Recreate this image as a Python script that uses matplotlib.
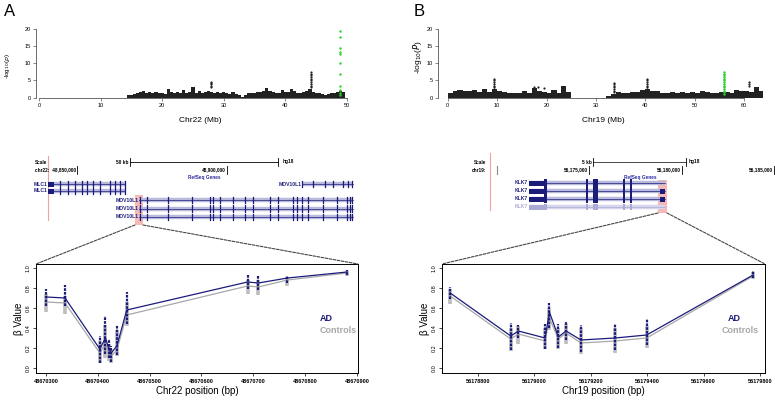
import numpy as np
import matplotlib
matplotlib.use("Agg")
import matplotlib.pyplot as plt
from matplotlib.patches import Rectangle, ConnectionPatch

plt.rcParams['font.family'] = ['Liberation Sans', 'DejaVu Sans']

W, H = 775, 400
NAVY = '#1b1b7a'
GREY = '#a8a8a8'
PALE = '#b9b9dc'

# ---- Manhattan data (-log10 p) ----
chr22_start, chr22_step = 14.5, 0.5
chr22_band = [0.6, 0.8, 1.0, 1.2, 1.5, 2.0, 1.4, 1.6, 1.3, 1.5, 1.2, 1.4, 1.1, 2.5, 1.5,
              1.2, 1.6, 1.3, 2.2, 1.4, 1.5, 3.2, 1.4, 1.8, 1.3, 1.5, 2.0, 1.7, 1.3, 1.6,
              1.2, 1.5, 1.3, 1.1, 1.7, 1.0, 0.7, 0.2, 0.8, 1.2, 1.4, 1.3, 1.6, 1.5, 2.0,
              2.8, 1.8, 1.5, 1.4, 1.3, 2.3, 1.5, 1.7, 2.5, 1.9, 1.4, 1.3, 1.5, 1.8, 2.5,
              1.6, 1.2, 1.4, 1.0, 0.8, 1.1, 1.3, 1.2, 1.5, 1.8, 1.6]
chr22_hit_pos = [28.0] * 5 + [44.2] * 10
chr22_hit_val = [3.0, 3.4, 3.8, 4.2, 4.5,
                 3.0, 3.5, 4.0, 4.5, 5.0, 5.5, 6.0, 6.5, 7.0, 7.3]
chr22_green_pos = 48.8
chr22_green_val = [0.8, 1.2, 2.1, 3.4, 6.8, 10.1, 12.6, 13.4, 14.5, 17.8, 19.5]

chr19_start, chr19_step = 0.5, 1.0
chr19_band = [1.4, 1.8, 2.2, 1.9, 2.0, 2.3, 1.6, 2.5, 1.5, 2.6, 2.0, 1.5, 1.3, 1.4, 1.2,
              2.0, 1.4, 2.8, 2.0, 1.6, 1.4, 2.2, 1.3, 3.4, 1.5, 0, 0, 0, 0, 0, 0, 0,
              0.5, 1.0, 1.5, 1.3, 1.4, 1.5, 1.6, 2.2, 2.6, 2.0, 2.0, 1.4, 1.3, 1.5, 1.2,
              1.6, 1.3, 1.5, 1.4, 1.8, 1.5, 1.3, 1.4, 1.5, 1.6, 1.4, 2.2, 1.8, 2.0, 1.6,
              3.2, 2.0]
chr19_hit_pos = [9.3] * 8 + [17.4, 17.4, 18.3, 19.4] + [33.7] * 7 + [40.3] * 7 + [60.9] * 3
chr19_hit_val = [2.0, 2.5, 3.0, 3.5, 4.0, 4.5, 5.0, 5.4,
                 2.6, 3.0, 3.2, 2.9,
                 1.5, 2.0, 2.5, 3.0, 3.5, 4.0, 4.3,
                 2.5, 3.0, 3.5, 4.0, 4.5, 5.0, 5.3,
                 3.5, 4.0, 4.5]
chr19_green_pos = 55.9
chr19_green_val = [1.0, 1.5, 2.0, 2.5, 3.0, 3.5, 4.0, 4.5, 5.0, 5.5, 6.0, 6.5, 7.0, 7.5]

# ---- beta values per CpG ----
chr22_cpg = [48670301, 48670337, 48670404, 48670415, 48670421, 48670426,
             48670437, 48670456, 48670689, 48670710, 48670766, 48670881]
chr22_ad = [0.71, 0.70, 0.19, 0.30, 0.20, 0.15, 0.22, 0.58, 0.86, 0.85, 0.90, 0.96]
chr22_ctrl = [0.66, 0.65, 0.15, 0.25, 0.16, 0.12, 0.18, 0.53, 0.82, 0.81, 0.88, 0.95]
chr22_ad_lo = [0.62, 0.62, 0.05, 0.14, 0.10, 0.06, 0.13, 0.44, 0.79, 0.78, 0.85, 0.93]
chr22_ad_hi = [0.79, 0.83, 0.32, 0.52, 0.29, 0.22, 0.43, 0.76, 0.93, 0.93, 0.92, 0.98]
chr22_ctrl_lo = [0.56, 0.54, 0.05, 0.10, 0.07, 0.05, 0.12, 0.42, 0.74, 0.73, 0.82, 0.92]
chr22_ctrl_hi = [0.74, 0.72, 0.27, 0.43, 0.24, 0.18, 0.38, 0.66, 0.88, 0.88, 0.91, 0.97]

chr19_cpg = [56178701, 56178916, 56178943, 56179038, 56179053, 56179085,
             56179112, 56179165, 56179286, 56179398, 56179776]
chr19_ad = [0.75, 0.32, 0.37, 0.30, 0.56, 0.31, 0.37, 0.28, 0.30, 0.33, 0.93]
chr19_ctrl = [0.72, 0.29, 0.34, 0.27, 0.50, 0.29, 0.35, 0.25, 0.27, 0.30, 0.92]
chr19_ad_lo = [0.69, 0.18, 0.30, 0.19, 0.40, 0.20, 0.28, 0.16, 0.18, 0.23, 0.90]
chr19_ad_hi = [0.81, 0.45, 0.43, 0.44, 0.65, 0.44, 0.47, 0.43, 0.44, 0.49, 0.97]
chr19_ctrl_lo = [0.64, 0.17, 0.24, 0.19, 0.38, 0.19, 0.24, 0.14, 0.15, 0.20, 0.89]
chr19_ctrl_hi = [0.79, 0.40, 0.42, 0.40, 0.60, 0.40, 0.44, 0.40, 0.40, 0.42, 0.96]

# ---- gene models (kb, hg18) ----
mlc1_span = (48840.3, 48866.0)
mlc1_box = (48840.3, 48842.3)
mlc1_exons = [48844.3, 48847.0, 48849.3, 48851.7, 48853.3, 48855.3, 48857.7,
              48861.0, 48862.7, 48864.3, 48866.0]
mov_span = (48870.7, 48941.9)
mov_exons = [48871.0, 48873.3, 48880.3, 48888.3, 48894.3, 48895.3, 48897.7, 48902.0,
             48906.0, 48908.7, 48914.3, 48917.0, 48922.0, 48923.3, 48925.0, 48927.0,
             48932.0, 48936.7, 48940.0, 48941.0, 48941.7]
mov_short_span = (48925.0, 48941.9)
mov_short_exons = [48925.0, 48928.7, 48932.7, 48935.3, 48938.7, 48940.3, 48941.7]
chr22_hilite = (48869.3, 48872.0)

klk7_span = (56171.77, 56179.09)
klk7_box = (56171.77, 56172.58)
klk7_exons = [56172.58, 56174.84, 56175.20, 56176.83, 56177.20]
klk7_exon_w = [0.16, 0.08, 0.30, 0.11, 0.11]
klk7_end = (56178.82, 56179.09)
chr19_hilite = (56178.71, 56179.19)


fig = plt.figure(figsize=(W / 100, H / 100), dpi=100)


def px_axes(l, t, r, b):
    return fig.add_axes([l / W, 1 - b / H, (r - l) / W, (b - t) / H])


def manhattan(ax, start, step, band, hit_pos, hit_val, gpos, gval, xmax_tick):
    pos = [start + step * i for i in range(len(band))]
    ax.bar(pos, band, width=step * 1.05, color='#222222', linewidth=0)
    ax.scatter(hit_pos, hit_val, s=2.5, color='#222222', linewidths=0)
    ax.scatter([gpos] * len(gval), gval, s=3, color='#2bd12b', linewidths=0, zorder=3)
    ax.set_ylim(0, 20)
    for s in ['top', 'right']:
        ax.spines[s].set_visible(False)
    ax.spines['left'].set_bounds(0, 20)
    ax.spines['bottom'].set_bounds(0, xmax_tick)
    for s in ['left', 'bottom']:
        ax.spines[s].set_linewidth(0.6)
        ax.spines[s].set_color('#555555')
    ax.set_yticks([0, 5, 10, 15, 20])
    ax.set_xticks(range(0, xmax_tick + 1, 10))
    ax.tick_params(labelsize=4, length=2.5, width=0.5, pad=1.5, color='#555555')


# ---- panel A / B top ----
axA = px_axes(36, 29, 350, 97.5)
axA.set_xlim(-0.49, 50.5)
manhattan(axA, chr22_start, chr22_step, chr22_band, chr22_hit_pos, chr22_hit_val,
          chr22_green_pos, chr22_green_val, 50)

axB = px_axes(438, 29, 763, 97.5)
axB.set_xlim(-1.96, 63.8)
manhattan(axB, chr19_start, chr19_step, chr19_band, chr19_hit_pos, chr19_hit_val,
          chr19_green_pos, chr19_green_val, 60)

# ---- overlay for labels ----
ov = fig.add_axes([0, 0, 1, 1], zorder=-1)
ov.set_xlim(0, W)
ov.set_ylim(H, 0)
ov.axis('off')
ov.text(10, 11, 'A', fontsize=12, ha='center', va='center')
ov.text(419, 11, 'B', fontsize=12, ha='center', va='center')
ov.text(200, 120, 'Chr22 (Mb)', fontsize=6, ha='center', va='center')
ov.text(603, 120, 'Chr19 (Mb)', fontsize=6, ha='center', va='center')
ov.text(7, 66, r'-log$_{10}$($p$)', fontsize=4.5, rotation=90, ha='center', va='center')
ov.text(418, 57, r'-log$_{10}$($P$)', fontsize=6, rotation=90, ha='center', va='center')


# ---- gene tracks ----
def gene_row(ax, y, span, exons, color, pale, label=None, box=None, end=None,
             tall=3.2, widths=None):
    ax.plot(span, [y, y], color=pale, lw=3.2, solid_capstyle='butt')
    ax.plot(span, [y, y], color=color, lw=0.5)
    if widths is None:
        for e in exons:
            ax.plot([e, e], [y - tall, y + tall], color=color, lw=0.9, zorder=3)
    else:
        for e, w in zip(exons, widths):
            ax.add_patch(Rectangle((e, y - tall), w, 2 * tall, color=color, lw=0, zorder=3))
    if box is not None:
        ax.add_patch(Rectangle((box[0], y - 2.5), box[1] - box[0], 5.0, color=color,
                               lw=0, zorder=3))
    if end is not None:
        ax.add_patch(Rectangle((end[0], y - 2.5), end[1] - end[0], 5.0, color=color,
                               lw=0, zorder=3))
    if label:
        ax.text(span[0] - 0.002 * (ax.get_xlim()[1] - ax.get_xlim()[0]), y, label,
                fontsize=3.6, fontweight='bold', color=color, ha='right', va='center')


trA = px_axes(0, 145, 390, 232)
trA.set_xlim(48824.33, 48954.33)
trA.set_ylim(232, 145)
trA.axis('off')
tk = dict(fontsize=3.4, fontweight='bold', va='center')
trA.text(48840.0, 162, 'Scale', ha='right', **tk)
trA.text(48849.6, 170, 'chr22:  48,850,000', ha='right', **tk)
trA.plot([48850, 48850], [166, 174], color='k', lw=0.6)
trA.text(48867.2, 162, '50 kb', ha='right', **tk)
trA.plot([48867.7, 48917], [162, 162], color='k', lw=0.6)
trA.plot([48867.7, 48867.7], [158, 166], color='k', lw=0.6)
trA.plot([48917, 48917], [158, 166], color='k', lw=0.6)
trA.text(48918.5, 161, 'hg18', ha='left', **tk)
trA.text(48899.6, 170, '48,900,000', ha='right', **tk)
trA.plot([48900, 48900], [166, 174], color='k', lw=0.6)
trA.text(48892.3, 177, 'RefSeq Genes', ha='center', color='#2a2aa0', **tk)
trA.plot([48840.3, 48840.3], [156, 220], color='#f2a0a0', lw=0.8)
trA.add_patch(Rectangle((chr22_hilite[0], 195), chr22_hilite[1] - chr22_hilite[0], 30,
                        color='#f6b9b6', lw=0, zorder=0))
gene_row(trA, 184, mlc1_span, mlc1_exons, NAVY, PALE, 'MLC1', box=mlc1_box)
gene_row(trA, 191, mlc1_span, mlc1_exons, NAVY, PALE, 'MLC1', box=mlc1_box)
gene_row(trA, 184, mov_short_span, mov_short_exons, NAVY, PALE, 'MOV10L1')
for yy in [200, 208.5, 217]:
    gene_row(trA, yy, mov_span, mov_exons, NAVY, PALE, 'MOV10L1')

trB = px_axes(390, 145, 775, 232)
trB.set_xlim(56164.30, 56185.0)
trB.set_ylim(232, 145)
trB.axis('off')
trB.text(56169.5, 162, 'Scale', ha='right', **tk)
trB.text(56169.5, 170, 'chr19:', ha='right', **tk)
trB.plot([56170.05, 56170.05], [166, 174], color='#888888', lw=0.8)
trB.text(56175.15, 162, '5 kb', ha='right', **tk)
trB.plot([56175.22, 56180.22], [162, 162], color='k', lw=0.5)
trB.plot([56175.22, 56175.22], [158, 166], color='k', lw=0.6)
trB.plot([56180.22, 56180.22], [158, 166], color='k', lw=0.6)
trB.text(56180.35, 161, 'hg18', ha='left', **tk)
for g, lab in [(56175, '56,175,000'), (56180, '56,180,000'), (56184.95, '56,185,000')]:
    trB.text(g - 0.05, 170, lab, ha='right', **tk)
    trB.plot([g, g], [166, 174], color='k', lw=0.6)
trB.text(56177.74, 177, 'RefSeq Genes', ha='center', color='#2a2aa0', **tk)
trB.plot([56169.68, 56169.68], [153, 210], color='#f2a0a0', lw=0.8)
trB.add_patch(Rectangle((chr19_hilite[0], 180), chr19_hilite[1] - chr19_hilite[0], 33,
                        color='#f6b9b6', lw=0, zorder=0))
gene_row(trB, 183, klk7_span, klk7_exons, NAVY, PALE, 'KLK7', box=klk7_box,
         tall=3.6, widths=klk7_exon_w)
gene_row(trB, 191, klk7_span, klk7_exons, NAVY, PALE, 'KLK7', box=klk7_box,
         end=klk7_end, tall=3.6, widths=klk7_exon_w)
gene_row(trB, 199, klk7_span, klk7_exons, NAVY, PALE, 'KLK7', box=klk7_box,
         end=klk7_end, tall=3.6, widths=klk7_exon_w)
gene_row(trB, 207, klk7_span, klk7_exons, '#aaaad4', '#d6d6ec', 'KLK7', box=klk7_box,
         tall=3.0, widths=klk7_exon_w)


# ---- beta value panels ----
def beta_panel(ax, cpg, ad, ctrl, ad_lo, ad_hi, c_lo, c_hi, xticks, xlabel):
    ax.vlines(cpg, c_lo, c_hi, color='#bdbdbd', lw=2.6)
    ax.plot(cpg, ctrl, color=GREY, lw=0.9)
    ax.vlines(cpg, ad_lo, ad_hi, color=NAVY, lw=1.6, linestyles=(0, (1.2, 0.5)))
    ax.plot(cpg, ad, color=NAVY, lw=0.9)
    ax.set_ylim(-0.05, 1.04)
    ax.set_yticks([0.0, 0.2, 0.4, 0.6, 0.8, 1.0])
    ax.set_yticklabels(['0.0', '0.2', '0.4', '0.6', '0.8', '1.0'], rotation=90, va='center')
    ax.set_xticks(xticks)
    ax.set_xticklabels([str(t) for t in xticks], fontweight='bold')
    ax.tick_params(labelsize=4, length=2.5, width=0.5, pad=1.5)
    for s in ax.spines.values():
        s.set_linewidth(0.7)
    ax.set_xlabel(xlabel, fontsize=7, labelpad=2)
    ax.set_ylabel('β Value', fontsize=7, labelpad=1)
    ax.text(0.88, 0.5, 'AD', transform=ax.transAxes, color=NAVY, fontsize=6.5,
            fontweight='bold', ha='left', va='center')
    ax.text(0.88, 0.39, 'Controls', transform=ax.transAxes, color=GREY, fontsize=6.5,
            fontweight='bold', ha='left', va='center')


bA = px_axes(36, 264, 358, 373)
bA.set_xlim(48670281, 48670902)
beta_panel(bA, chr22_cpg, chr22_ad, chr22_ctrl, chr22_ad_lo, chr22_ad_hi,
           chr22_ctrl_lo, chr22_ctrl_hi, list(range(48670300, 48670901, 100)),
           'Chr22 position (bp)')

bB = px_axes(442, 264, 765, 373)
bB.set_xlim(56178672, 56179818)
beta_panel(bB, chr19_cpg, chr19_ad, chr19_ctrl, chr19_ad_lo, chr19_ad_hi,
           chr19_ctrl_lo, chr19_ctrl_hi, list(range(56178800, 56179801, 200)),
           'Chr19 position (bp)')
bB.texts[0].set_position((0.885, 0.5))
bB.texts[1].set_position((0.865, 0.39))

# dashed zoom lines from the highlighted region to the lower panels
for tr, hl, yb, bot in [(trA, chr22_hilite, 225, bA), (trB, chr19_hilite, 213, bB)]:
    for xx, corner in [(hl[0], (0, 1)), (hl[1], (1, 1))]:
        con = ConnectionPatch(xyA=(xx, yb), coordsA=tr.transData, xyB=corner,
                              coordsB=bot.transAxes, color='#444444', lw=0.8,
                              linestyle=(0, (2.5, 1.2)))
        fig.add_artist(con)

fig.savefig('out.png', dpi=100)
